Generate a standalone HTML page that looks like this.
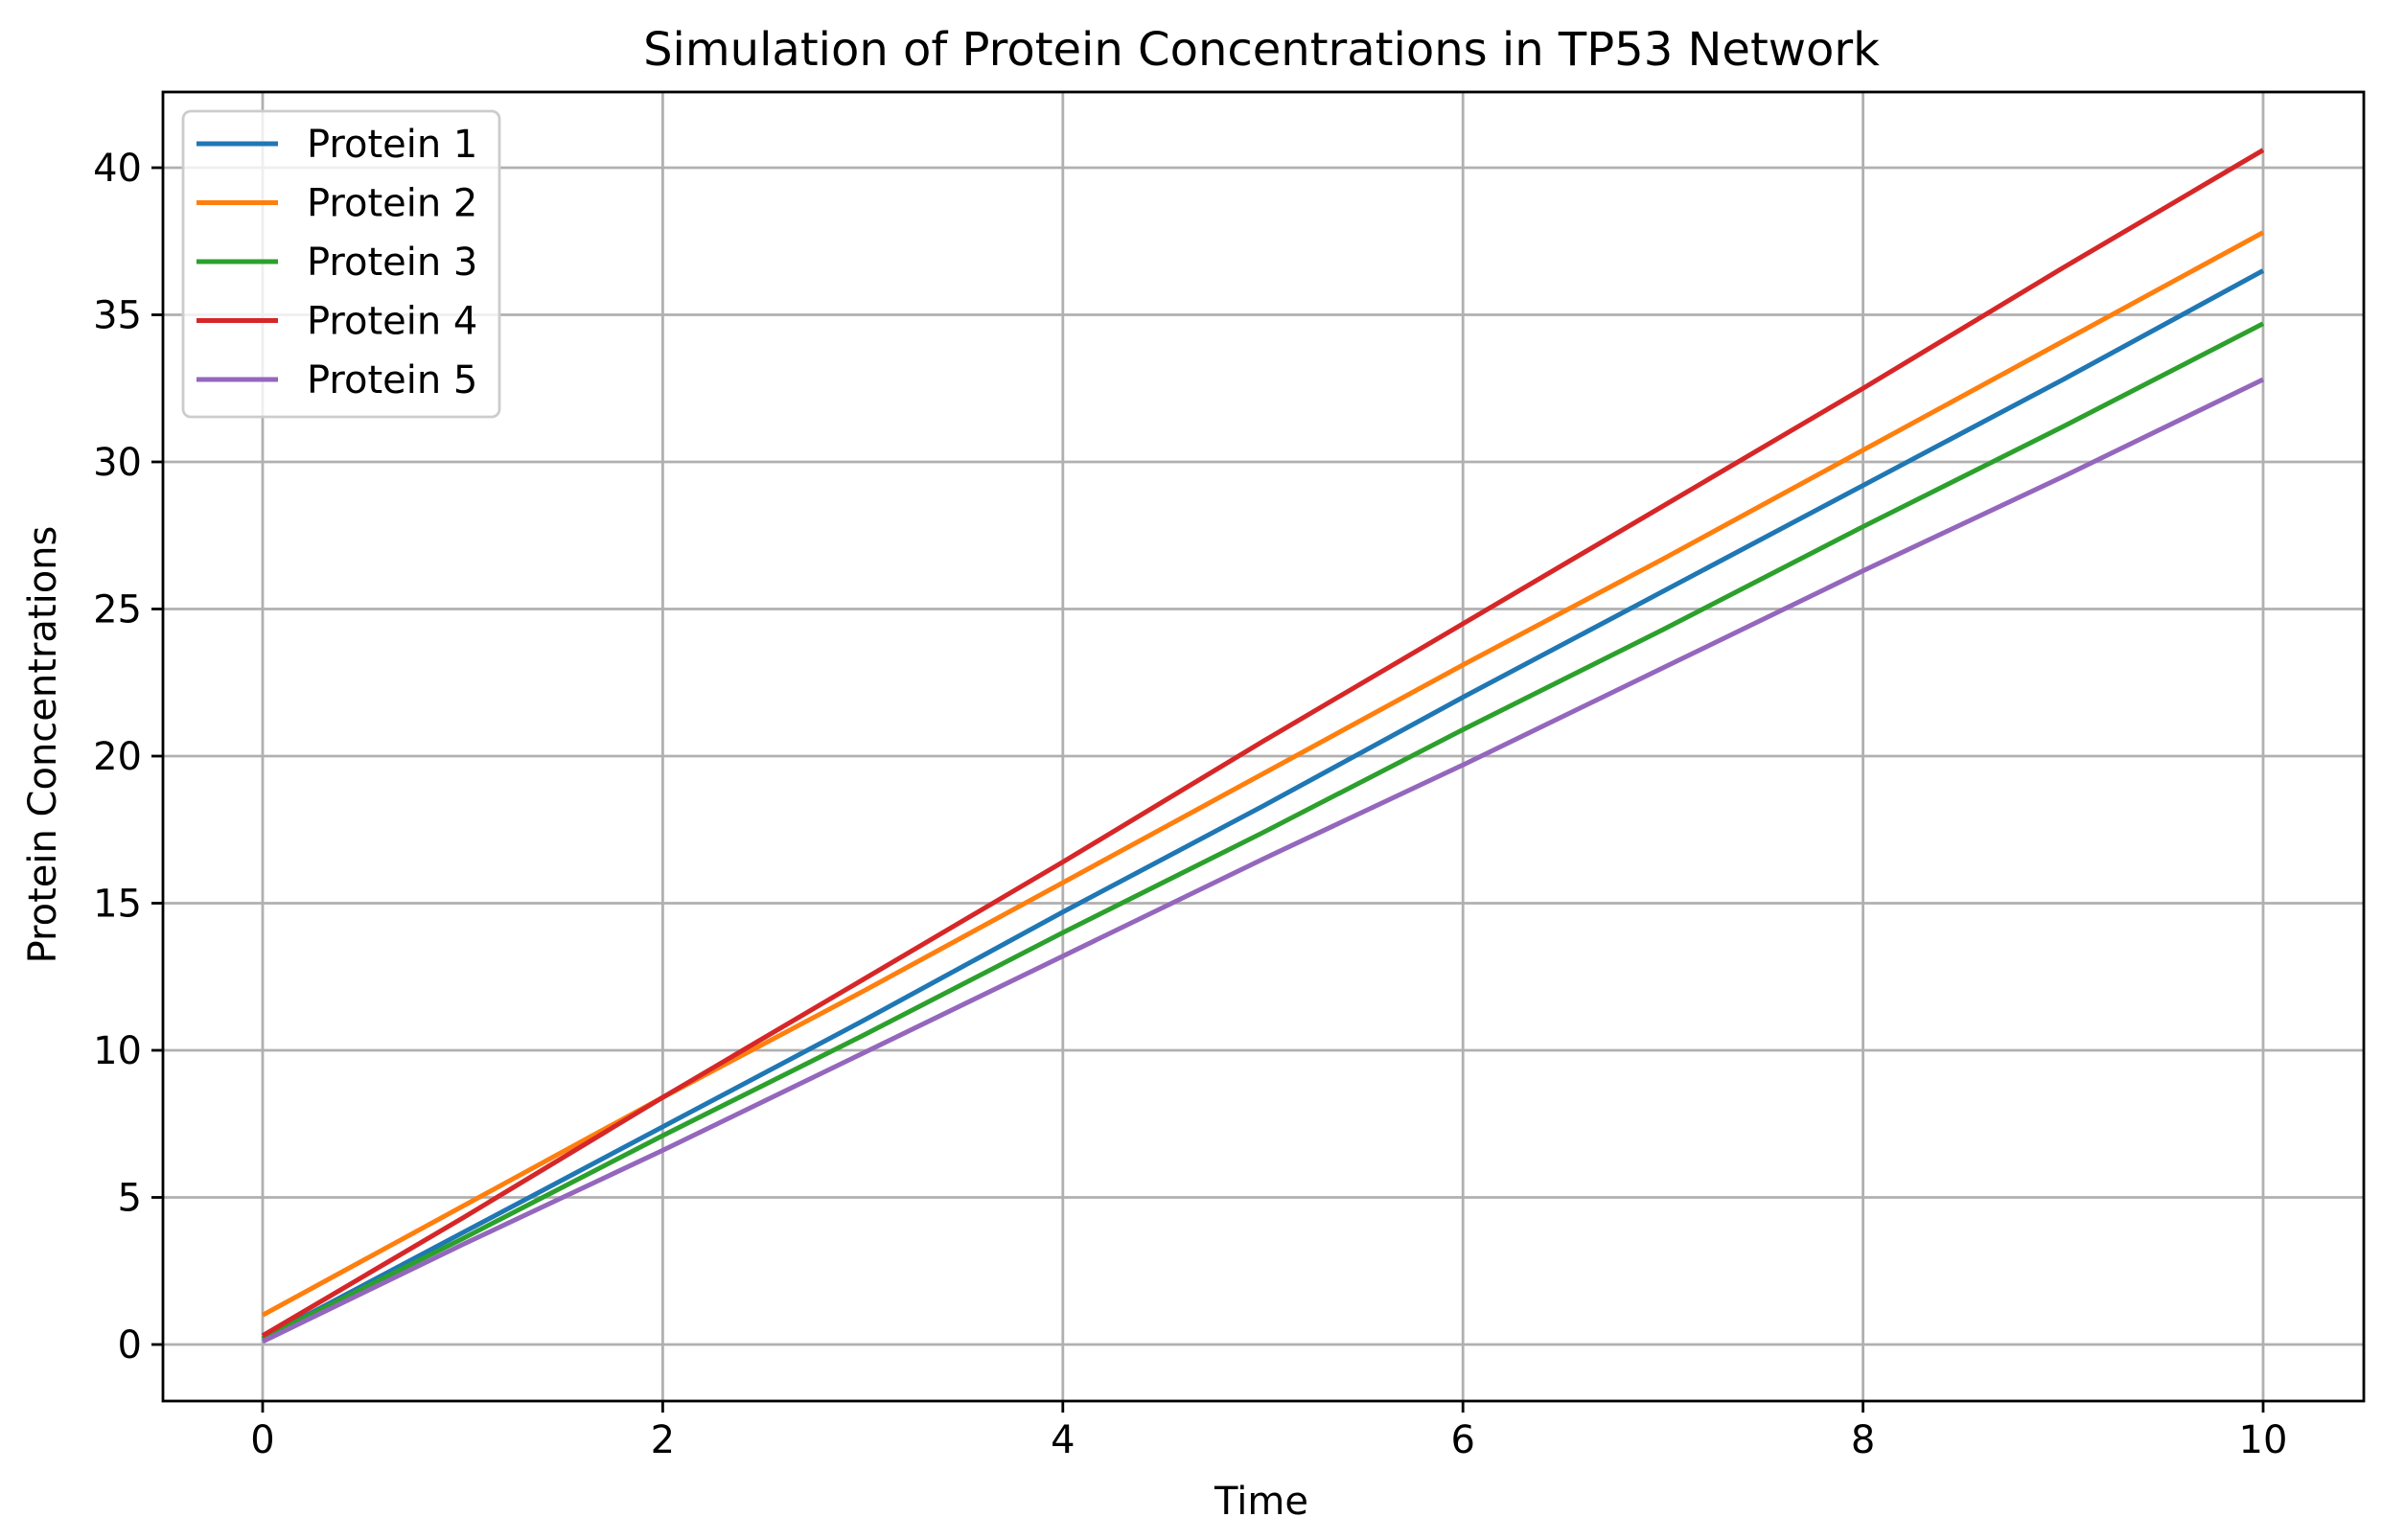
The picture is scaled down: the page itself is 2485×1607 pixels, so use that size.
<!DOCTYPE html>
<html><head><meta charset="utf-8"><style>
body{margin:0;background:#fff}
svg{display:block;font-family:"DejaVu Sans","Liberation Sans",sans-serif}
</style></head><body>
<svg id="chart" width="2485" height="1607" xmlns="http://www.w3.org/2000/svg">
<rect width="2485" height="1607" fill="#fff"/>
<g id="grid"></g><g id="series"></g><g id="axes"></g>
<text x="1316" y="68" font-size="48" text-anchor="middle">Simulation of Protein Concentrations in TP53 Network</text>
<text x="1316" y="1580" font-size="40" text-anchor="middle">Time</text>
<text x="0" y="0" font-size="40" text-anchor="middle" transform="translate(58,777) rotate(-90)">Protein Concentrations</text>
<g id="legend"></g>
</svg>
<script>
const times=[0,1,2,3,4,5,6,7,8,9,10];
const seriesNames=["Protein 1","Protein 2","Protein 3","Protein 4","Protein 5"];
const p1=[0.2,3.8,7.4,11.0,14.7,18.3,22.0,25.6,29.2,32.8,36.5];
const p2=[1.0,4.7,8.4,12.0,15.7,19.4,23.1,26.7,30.4,34.1,37.8];
const p3=[0.2,3.6,7.1,10.5,14.0,17.4,20.9,24.3,27.8,31.2,34.7];
const p4=[0.3,4.3,8.4,12.4,16.4,20.5,24.5,28.5,32.5,36.6,40.6];
const p5=[0.1,3.4,6.6,9.9,13.2,16.5,19.7,23.0,26.3,29.5,32.8];
const xTicks=[0,2,4,6,8,10];
const yTicks=[0,5,10,15,20,25,30,35,40];
const colors=["#1f77b4","#ff7f0e","#2ca02c","#d62728","#9467bd"];
const allSeries=[p1,p2,p3,p4,p5];
const L=170,R=2466,T=96,B=1462;
const X=v=>274+(2361-274)*v/10;
const Y=v=>1403-(1403-175)*v/40;
const NS="http://www.w3.org/2000/svg";
function mk(tag,attrs,parent){const e=document.createElementNS(NS,tag);for(const k in attrs)e.setAttribute(k,attrs[k]);parent.appendChild(e);return e;}
const grid=document.getElementById('grid'),axes=document.getElementById('axes'),ser=document.getElementById('series'),leg=document.getElementById('legend');
xTicks.forEach(t=>{
 const g=mk('line',{x1:X(t),x2:X(t),y1:T,y2:B,stroke:'#b0b0b0','stroke-width':2.8},grid);
 
 
 const tk=mk('line',{x1:X(t),x2:X(t),y1:B,y2:B+12,stroke:'#000','stroke-width':2.8},axes);
 
 
 const tx=mk('text',{x:X(t),y:B+54,'font-size':40,'text-anchor':'middle'},axes);tx.textContent=t;
 
 
});
yTicks.forEach(t=>{
 const g=mk('line',{x1:L,x2:R,y1:Y(t),y2:Y(t),stroke:'#b0b0b0','stroke-width':2.8},grid);
 
 
 const tk=mk('line',{x1:L-12,x2:L,y1:Y(t),y2:Y(t),stroke:'#000','stroke-width':2.8},axes);
 
 
 const tx=mk('text',{x:L-22,y:Y(t)+14,'font-size':40,'text-anchor':'end'},axes);tx.textContent=t;
 
 
});
const frame=mk('rect',{x:L,y:T,width:R-L,height:B-T,fill:'none',stroke:'#000','stroke-width':2.8},axes);


allSeries.forEach((s,i)=>{
 const pts=s.map((v,j)=>X(times[j])+','+Y(v)).join(' ');
 const pl=mk('polyline',{points:pts,fill:'none',stroke:colors[i],'stroke-width':5},ser);
 
 
});
const lb=mk('rect',{x:191,y:116,width:330,height:319,rx:8,fill:'#fff','fill-opacity':0.8,stroke:'#cccccc','stroke-width':2.8},leg);


seriesNames.forEach((n,i)=>{
 const y=150+i*61.5;
 const g=mk('g',{},leg);
 
 
 mk('line',{x1:205,x2:290,y1:y,y2:y,stroke:colors[i],'stroke-width':5},g);
 const t=mk('text',{x:320,y:y+14,'font-size':40},g);t.textContent=n;
});
</script>
</body></html>
